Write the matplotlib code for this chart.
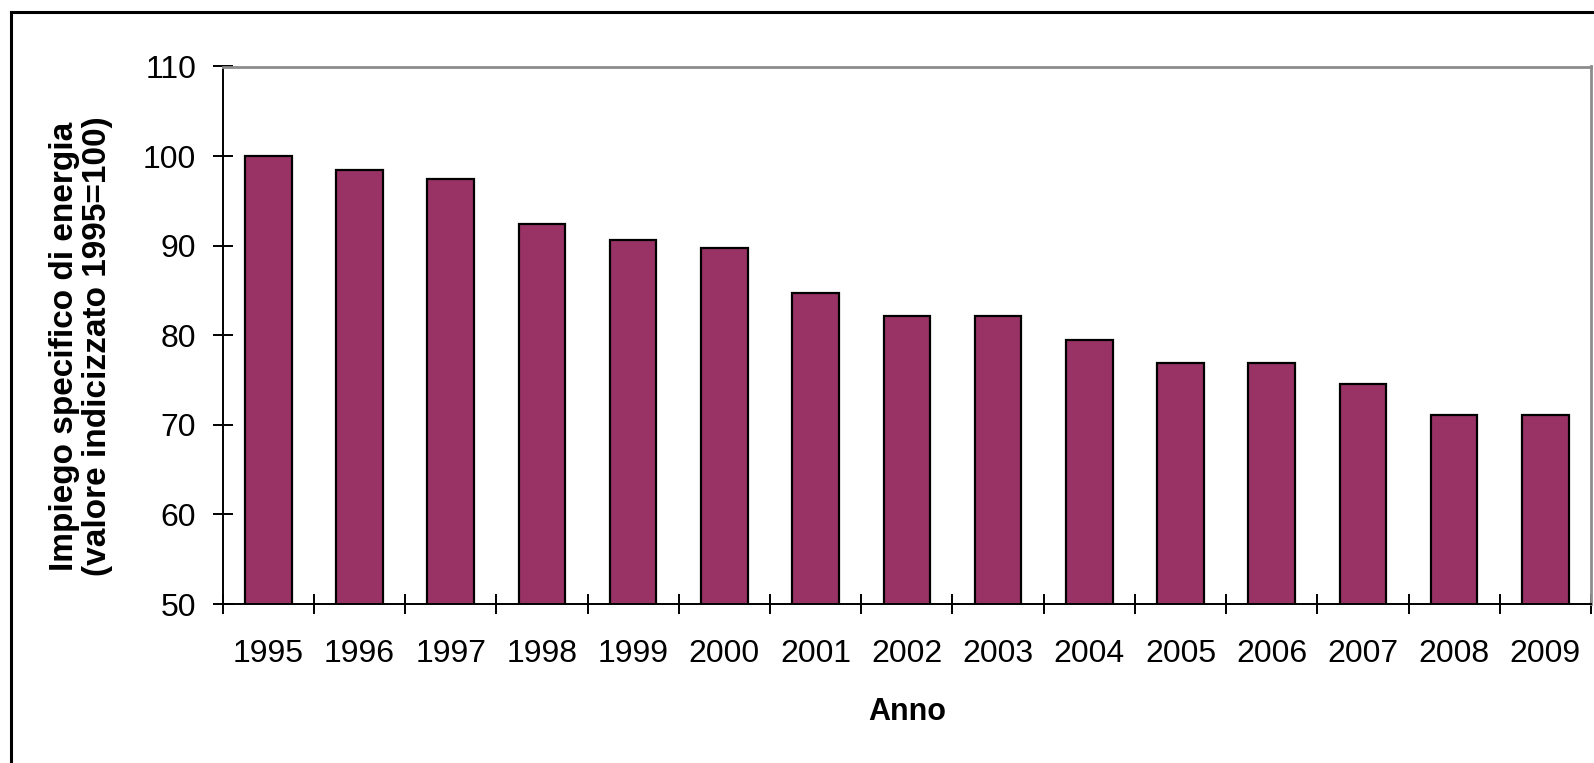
import numpy as np
import matplotlib
matplotlib.use("Agg")
import matplotlib.pyplot as plt
from matplotlib.lines import Line2D

plt.rcParams["font.family"] = ["Liberation Sans", "DejaVu Sans"]

# specific energy use, index 1995 = 100
anni = ["1995", "1996", "1997", "1998", "1999", "2000", "2001", "2002",
        "2003", "2004", "2005", "2006", "2007", "2008", "2009"]
impiego = [100.0, 98.4, 97.4, 92.4, 90.6, 89.7, 84.7, 82.1,
           82.1, 79.5, 76.9, 76.9, 74.6, 71.1, 71.1]

W, H = 1594, 763
fig = plt.figure(figsize=(W / 100, H / 100), dpi=100)
ax = fig.add_axes([222.7 / W, 1 - 604 / H, (1591 - 222.7) / W, (604 - 66.5) / H])

x = np.arange(len(anni))
ax.bar(x, impiego, width=0.51, color="#993366", edgecolor="black", linewidth=1.6)

ax.set_xlim(-0.5, len(anni) - 0.5)
ax.set_ylim(50, 110)
ax.set_yticks(np.arange(50, 111, 10))

# category labels in the middle, tick marks on the boundaries
ax.set_xticks(x)
ax.set_xticklabels(anni)
ax.set_xticks(np.arange(-0.5, len(anni), 1), minor=True)
ax.tick_params(axis="x", which="major", length=0, pad=25, labelsize=23)
ax.tick_params(axis="x", which="minor", direction="inout", length=15, width=1.4)
ax.tick_params(axis="y", direction="inout", length=14, width=1.4, pad=12, labelsize=23)

for s in ["left", "bottom"]:
    ax.spines[s].set_color("black")
    ax.spines[s].set_linewidth(1.4)
for s in ["top", "right"]:
    ax.spines[s].set_color("#8c8c8c")
    ax.spines[s].set_linewidth(2)

ax.set_ylabel("Impiego specifico di energia\n(valore indicizzato 1995=100)",
              fontsize=24, fontweight="bold", linespacing=1.1)
ax.yaxis.set_label_coords(-0.08, 0.48)
ax.set_xlabel("Anno", fontsize=22, fontweight="bold", labelpad=20)

# outer chart frame
fx, fy = 10.5 / W, 1 - 12 / H
fig.add_artist(Line2D([fx, 1.01], [fy, fy], color="black", linewidth=2.2))
fig.add_artist(Line2D([fx, fx], [fy, -0.01], color="black", linewidth=2.2))

fig.savefig("out.png", dpi=100)
